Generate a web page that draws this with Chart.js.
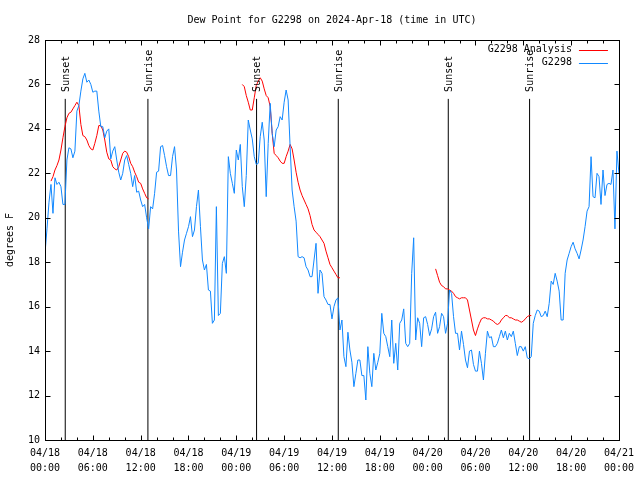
<!DOCTYPE html>
<html>
<head>
<meta charset="utf-8">
<title>Dew Point for G2298</title>
<script src="https://cdn.jsdelivr.net/npm/chart.js@4.4.1/dist/chart.umd.min.js"></script>
<style>
    html, body { margin: 0; padding: 0; background: #fff; }
    #wrap { width: 640px; height: 480px; }
</style>
</head>
<body>
<div id="wrap"><canvas id="dewChart" width="640" height="480"></canvas></div>
<script>
/*
 * Dew point chart for station G2298
 * Times are hours after 2024-04-18 00:00 UTC, values in degrees F
 */

const chartTitle = 'Dew Point for G2298 on 2024-Apr-18 (time in UTC)';
const yAxisTitle = 'degrees F';

// x tick labels, one per 6 hours
const xTickDates = ['04/18', '04/18', '04/18', '04/18', '04/19', '04/19', '04/19', '04/19', '04/20', '04/20', '04/20', '04/20', '04/21'];
const xTickTimes = ['00:00', '06:00', '12:00', '18:00', '00:00', '06:00', '12:00', '18:00', '00:00', '06:00', '12:00', '18:00', '00:00'];

// station observations, every 15 minutes from hour 0
const obsLabel = 'G2298';
const obsStart = 0;
const obsStep = 0.25;
const obsValues = [
    18.4, 19.5, 20.7, 21.5, 20.2, 21.8, 21.5, 21.6, 21.4, 20.6, 20.6, 22.6,
    23.15, 23.1, 22.7, 23.0, 24.8, 25.05, 25.7, 26.25, 26.5, 26.1, 26.2, 26.0,
    25.65, 25.7, 25.7, 24.8, 24.1, 24.1, 23.6, 23.9, 24.0, 22.65, 23.0, 23.2,
    22.6, 22.05, 21.7, 22.0, 22.6, 22.8, 22.4, 22.0, 21.4, 21.9, 21.15, 21.2,
    20.8, 20.5, 20.6, 20.0, 19.5, 20.5, 20.4, 21.1, 22.05, 22.1, 23.2, 23.25,
    22.8, 22.3, 21.9, 21.9, 22.75, 23.2, 22.15, 19.4, 17.8, 18.45, 19.0, 19.3,
    19.6, 20.05, 19.15, 19.45, 20.5, 21.25, 19.6, 18.1, 17.65, 17.9, 16.75, 16.7,
    15.25, 15.4, 20.5, 15.6, 15.7, 17.95, 18.25, 17.5, 22.75, 22.0, 21.55, 21.1,
    23.05, 22.6, 23.3, 21.4, 20.5, 21.9, 24.4, 23.95, 23.55, 22.75, 22.4, 22.45,
    23.65, 24.3, 23.5, 20.95, 23.35, 25.15, 23.8, 23.2, 23.95, 24.1, 24.55, 24.4,
    25.2, 25.75, 25.3, 23.2, 21.25, 20.5, 19.85, 18.25, 18.2, 18.25, 18.2, 17.8,
    17.65, 17.35, 17.35, 18.1, 18.85, 16.6, 17.65, 17.5, 16.45, 16.3, 16.1, 16.1,
    15.45, 16.0, 16.3, 16.4, 14.95, 15.4, 13.75, 13.3, 14.85, 14.05, 13.5, 12.4,
    13.0, 13.6, 13.6, 12.9, 12.9, 11.8, 14.2, 13.0, 12.4, 13.9, 13.15, 13.5,
    13.9, 15.7, 14.8, 14.65, 14.2, 13.75, 15.4, 13.45, 14.35, 13.15, 15.25, 15.4,
    15.9, 14.35, 14.2, 14.35, 17.5, 19.1, 14.5, 15.5, 15.25, 14.2, 15.5, 15.55,
    15.2, 14.7, 15.0, 15.55, 15.75, 14.8, 15.1, 15.7, 15.55, 14.8, 15.25, 16.75,
    16.6, 15.55, 14.8, 14.8, 14.05, 14.9, 14.3, 13.6, 13.25, 14.0, 14.05, 13.4,
    13.1, 13.1, 14.0, 13.45, 12.7, 13.9, 14.9, 14.6, 14.65, 14.2, 14.2, 14.35,
    14.65, 14.95, 14.6, 14.9, 14.5, 14.8, 14.65, 14.9, 14.35, 13.8, 14.2, 14.2,
    14.0, 14.2, 13.7, 13.65, 13.75, 15.25, 15.6, 15.85, 15.8, 15.55, 15.6, 15.8,
    15.55, 16.15, 17.15, 17.0, 17.5, 17.15, 16.7, 15.4, 15.4, 17.5, 18.1, 18.4,
    18.7, 18.9, 18.6, 18.4, 18.15, 18.55, 19.0, 19.6, 20.3, 20.5, 22.75, 20.95,
    20.9, 22.0, 21.85, 20.6, 22.15, 21.0, 21.5, 21.55, 21.5, 22.15, 19.5, 23.0,
    22.0
];

// analysis, three night-time runs, every 15 minutes
const analysisLabel = 'G2298 Analysis';
const analysisStep = 0.25;
const analysisStarts = [0.75, 24.75, 49.0];
const analysisRun1 = [
    21.65, 21.85, 22.15, 22.35, 22.6, 23.05, 23.6, 24.1, 24.5, 24.7, 24.75, 24.9,
    25.05, 25.2, 25.05, 24.2, 23.7, 23.65, 23.5, 23.25, 23.1, 23.05, 23.35, 23.7,
    24.15, 24.15, 23.95, 23.5, 22.95, 22.65, 22.6, 22.3, 22.2, 22.15, 22.3, 22.6,
    22.9, 23.0, 22.95, 22.75, 22.45, 22.3, 22.05, 21.85, 21.6, 21.55, 21.3, 21.1,
    20.9, 20.85
];
const analysisRun2 = [
    26.0, 25.9, 25.5, 25.2, 24.85, 24.85, 25.4, 25.95, 26.15, 26.3, 26.15, 25.8,
    25.5, 25.4, 25.0, 23.8, 22.9, 22.8, 22.7, 22.55, 22.45, 22.45, 22.75, 23.0,
    23.3, 23.1, 22.6, 22.05, 21.6, 21.25, 21.0, 20.8, 20.6, 20.4, 20.1, 19.7,
    19.45, 19.35, 19.25, 19.15, 19.0, 18.85, 18.5, 18.2, 17.9, 17.75, 17.6, 17.45,
    17.3, 17.3
];
const analysisRun3 = [
    17.7, 17.4, 17.1, 16.95, 16.9, 16.8, 16.8, 16.75, 16.7, 16.6, 16.45, 16.4,
    16.35, 16.4, 16.4, 16.4, 16.3, 15.85, 15.4, 14.95, 14.7, 15.0, 15.25, 15.45,
    15.5, 15.5, 15.45, 15.45, 15.4, 15.35, 15.25, 15.2, 15.25, 15.4, 15.5, 15.6,
    15.6, 15.5, 15.5, 15.45, 15.4, 15.4, 15.35, 15.3, 15.35, 15.45, 15.55, 15.6,
    15.6
];

// sunset / sunrise markers
const sunEventHours = [2.54, 12.91, 26.54, 36.79, 50.59, 60.79];
const sunEventNames = ['Sunset', 'Sunrise', 'Sunset', 'Sunrise', 'Sunset', 'Sunrise'];
const sunLineTop = 25.35;

const RED = '#ff0000';
const BLUE = '#1188ff';
const FONT = "'DejaVu Sans Mono', 'Liberation Mono', monospace";

/**
 * Build {x, y} points from a start hour and a list of values
 */
function toPoints(start, step, values) {
    return values.map((v, i) => ({ x: start + i * step, y: v }));
}

// analysis runs joined, with a break between them
const analysisRuns = [analysisRun1, analysisRun2, analysisRun3];
const analysisPoints = [];
analysisRuns.forEach((run, r) => {
    toPoints(analysisStarts[r], analysisStep, run).forEach(p => analysisPoints.push(p));
    analysisPoints.push({ x: analysisStarts[r] + run.length * analysisStep, y: null });
});

// vertical marker lines
const sunPoints = [];
sunEventHours.forEach(h => {
    sunPoints.push({ x: h, y: 10 });
    sunPoints.push({ x: h, y: sunLineTop });
    sunPoints.push({ x: h, y: null });
});

/**
 * Frame, inward ticks, title, legend and marker labels in gnuplot style
 */
const gnuplotDecor = {
    id: 'gnuplotDecor',
    afterDraw(chart) {
        const ctx = chart.ctx;
        const area = chart.chartArea;
        const xs = chart.scales.x;
        const ys = chart.scales.y;
        const L = Math.round(area.left) + 0.5;
        const R = Math.round(area.right) + 0.5;
        const T = Math.round(area.top) + 0.5;
        const B = Math.round(area.bottom) + 0.5;

        ctx.save();
        ctx.strokeStyle = '#000';
        ctx.lineWidth = 1;

        // ticks
        ctx.beginPath();
        for (let h = 0; h <= 72; h += 2) {
            const px = Math.round(xs.getPixelForValue(h)) + 0.5;
            const len = h % 6 === 0 ? 5 : 3;
            ctx.moveTo(px, B); ctx.lineTo(px, B - len);
            ctx.moveTo(px, T); ctx.lineTo(px, T + len);
        }
        ys.ticks.forEach(t => {
            const py = Math.round(ys.getPixelForValue(t.value)) + 0.5;
            ctx.moveTo(L, py); ctx.lineTo(L + 5, py);
            ctx.moveTo(R, py); ctx.lineTo(R - 5, py);
        });
        ctx.stroke();

        // border
        ctx.strokeRect(L, T, R - L, B - T);

        ctx.fillStyle = '#000';
        ctx.font = '10px ' + FONT;

        // title
        ctx.textAlign = 'center';
        ctx.textBaseline = 'middle';
        ctx.fillText(chartTitle, (area.left + area.right) / 2, 20);

        // legend
        const items = [
            { label: analysisLabel, color: RED },
            { label: obsLabel, color: BLUE }
        ];
        items.forEach((it, i) => {
            const y = area.top + 9.5 + i * 13;
            ctx.textAlign = 'right';
            ctx.fillStyle = '#000';
            ctx.fillText(it.label, area.right - 47, y);
            ctx.strokeStyle = it.color;
            ctx.beginPath();
            ctx.moveTo(area.right - 40, Math.round(y) + 0.5);
            ctx.lineTo(area.right - 11, Math.round(y) + 0.5);
            ctx.stroke();
        });

        // marker labels
        ctx.fillStyle = '#000';
        sunEventHours.forEach((h, i) => {
            const px = xs.getPixelForValue(h);
            const py = ys.getPixelForValue(sunLineTop);
            ctx.save();
            ctx.translate(px + 1, py - 7);
            ctx.rotate(-Math.PI / 2);
            ctx.textAlign = 'left';
            ctx.textBaseline = 'middle';
            ctx.fillText(sunEventNames[i], 0, 0);
            ctx.restore();
        });

        ctx.restore();
    }
};

Chart.defaults.font.family = FONT;
Chart.defaults.font.size = 10;
Chart.defaults.color = '#000';

const ctx = document.getElementById('dewChart').getContext('2d');
const dewChart = new Chart(ctx, {
    type: 'line',
    data: {
        datasets: [
            {
                label: obsLabel,
                data: toPoints(obsStart, obsStep, obsValues),
                borderColor: BLUE,
                borderWidth: 1,
                pointRadius: 0,
                tension: 0,
                order: 1
            },
            {
                label: analysisLabel,
                data: analysisPoints,
                borderColor: RED,
                borderWidth: 1,
                pointRadius: 0,
                tension: 0,
                spanGaps: false,
                order: 2
            },
            {
                label: 'sun',
                data: sunPoints,
                borderColor: '#000',
                borderWidth: 1,
                pointRadius: 0,
                spanGaps: false,
                order: 3
            }
        ]
    },
    options: {
        responsive: false,
        animation: false,
        devicePixelRatio: 1,
        layout: { padding: { top: 40, right: 19, bottom: 0, left: 0 } },
        plugins: {
            legend: { display: false },
            tooltip: { enabled: false },
            title: { display: false }
        },
        scales: {
            x: {
                type: 'linear',
                min: 0,
                max: 72,
                afterFit(scale) { scale.height = 40; },
                grid: { display: false, drawTicks: false },
                border: { display: false },
                ticks: {
                    stepSize: 6,
                    autoSkip: false,
                    maxRotation: 0,
                    padding: 6,
                    font: { size: 10, lineHeight: 1.5 },
                    callback: function(value) {
                        const i = Math.round(value / 6);
                        return [xTickDates[i], xTickTimes[i]];
                    }
                }
            },
            y: {
                min: 10,
                max: 28,
                afterFit(scale) { scale.width = 45; },
                grid: { display: false, drawTicks: false },
                border: { display: false },
                ticks: { stepSize: 2, padding: 5 },
                title: {
                    display: true,
                    text: yAxisTitle,
                    font: { size: 10 },
                    padding: { top: 4, bottom: 0 }
                }
            }
        }
    },
    plugins: [gnuplotDecor]
});
</script>
</body>
</html>
